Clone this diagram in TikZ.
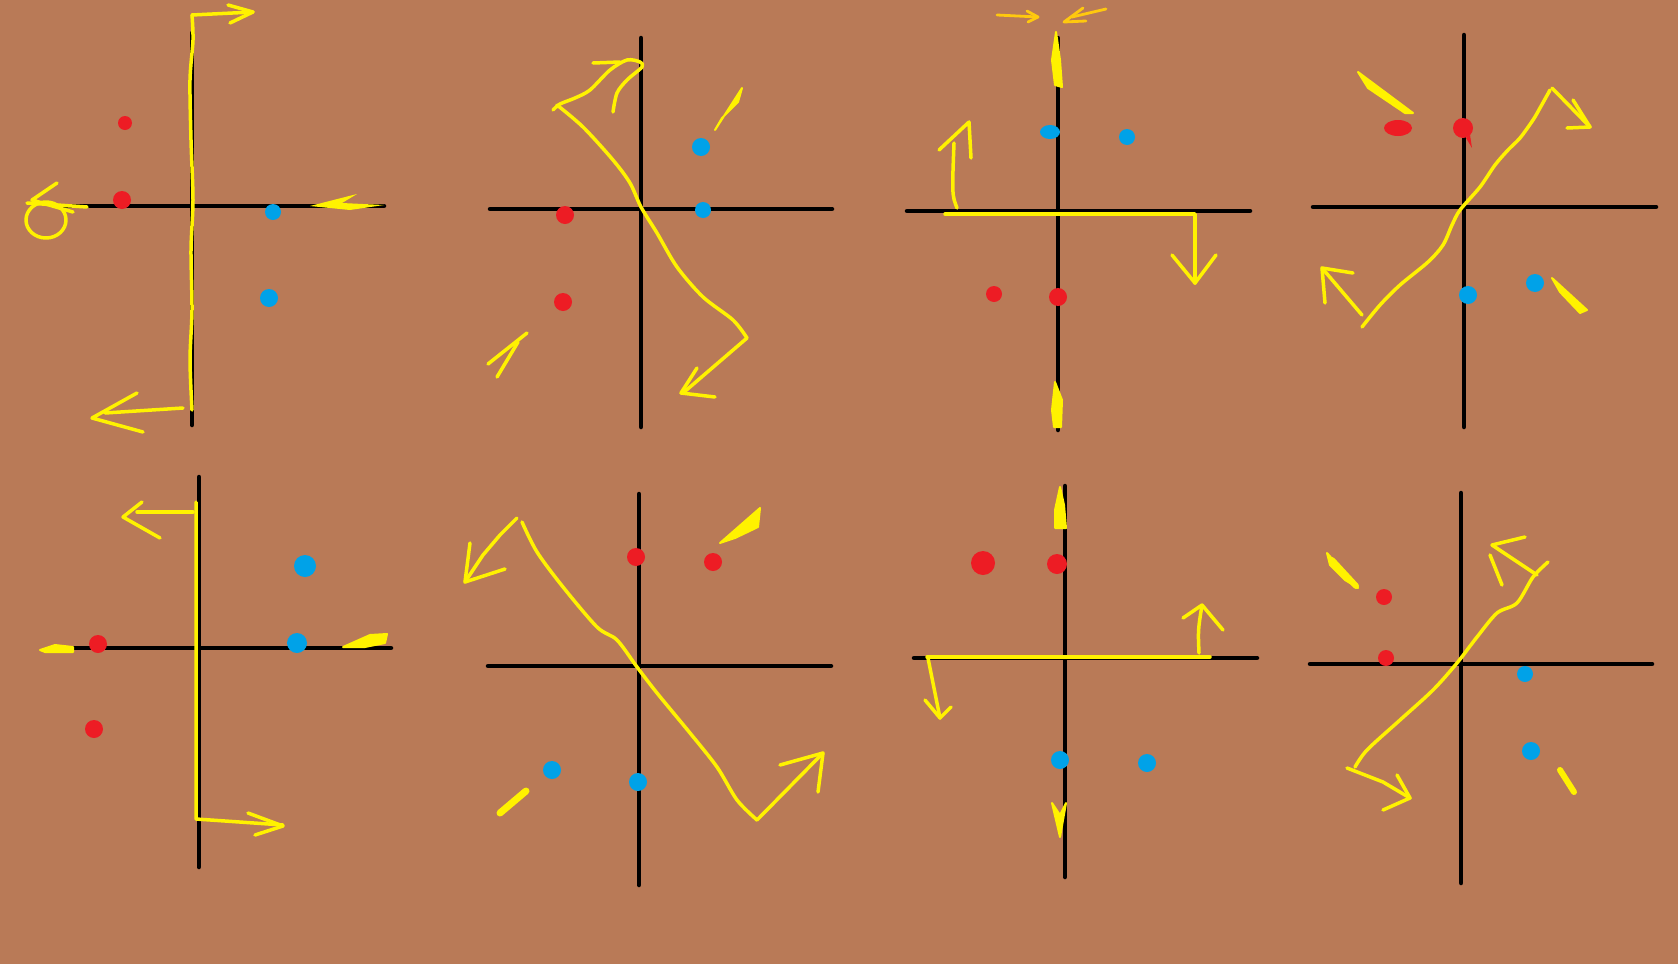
\documentclass[tikz,border=0pt]{standalone}
\definecolor{bg}{HTML}{B97A57}
\definecolor{yel}{HTML}{FFF200}
\definecolor{rd}{HTML}{ED1C24}
\definecolor{bl}{HTML}{00A2E8}
\definecolor{org}{HTML}{FFC90E}
\begin{document}
\begin{tikzpicture}[x=1pt,y=-1pt,
  axis/.style={line width=4.5pt, black, line cap=round},
  yl/.style={line width=3.5pt, yel, line cap=round, line join=round},
  og/.style={line width=2.8pt, org, line cap=round, line join=round},
  wedge/.style={fill=yel, draw=yel, line width=2pt, line join=round},
  rdot/.style={fill=rd},
  bdot/.style={fill=bl}]
\fill[bg] (0,0) rectangle (1678,964);
\useasboundingbox (0,0) rectangle (1678,964);

% ---------- Panel 1 ----------
\draw[axis] (192,33) -- (192,425);
\draw[axis] (60,206) -- (384,206);
\draw[yl] plot[smooth] coordinates {(192,410) (190,360) (192,310) (191,250) (193,200) (191,140) (190,80) (193,40) (192,15)};
\draw[yl] (192,15) -- (253,12);
\draw[yl] (228,5) -- (253,12) -- (230,23);
\draw[yl] (183,408) -- (105,413);
\draw[yl] (137,393) -- (92,418) -- (143,432);
\draw[yl] (87,207) -- (27,203);
\draw[yl] (57,183) -- (32,200) -- (73,212);
\draw[yl] (46,220) ellipse (20 and 18);
\fill[yel] (310,206) -- (357,194) -- (342,203) -- (384,205) -- (350,210) -- cycle;
\fill[rdot] (125,123) circle (7);
\fill[rdot] (122,200) circle (9);
\fill[bdot] (273,212) circle (8);
\fill[bdot] (269,298) circle (9);

% ---------- Panel 2 ----------
\draw[axis] (641,38) -- (641,427);
\draw[axis] (490,209) -- (832,209);
\draw[yl] plot[smooth] coordinates {(557,105) (583,127) (613,160) (630,183) (641,207) (657,233) (677,267) (703,297) (733,320) (747,338)};
\draw[yl] (747,338) -- (683,393);
\draw[yl] (697,368) -- (681,393) -- (715,397);
\draw[yl] plot[smooth] coordinates {(553,110) (560,104) (575,98) (590,90) (610,70) (627,60) (640,62) (642,67) (627,80) (617,93) (613,112)};
\draw[yl] (593,63) -- (620,62);
\fill[wedge] (715,130) -- (742,88) -- (738,102) -- (722,118) -- cycle;
\draw[yl] (488,364) -- (527,333);
\draw[yl] (497,377) -- (518,342);
\fill[rdot] (565,215) circle (9);
\fill[rdot] (563,302) circle (9);
\fill[bdot] (701,147) circle (9);
\fill[bdot] (703,210) circle (8);

% ---------- Panel 3 ----------
\draw[axis] (1058,38) -- (1058,430);
\draw[axis] (907,211) -- (1250,211);
\draw[yl] (945,214) -- (1195,214) -- (1195,283);
\draw[yl] (1172,255) -- (1195,283) -- (1216,255);
\draw[yl] (957,208) .. controls (952,195) .. (954,143);
\draw[yl] (939,150) -- (969,122) -- (971,158);
\fill[wedge] (1056,32) -- (1052,60) -- (1055,85) -- (1062,87) -- (1060,60) -- cycle;
\fill[wedge] (1055,382) -- (1052,410) -- (1054,427) -- (1061,427) -- (1062,400) -- cycle;
\draw[og] (997,15) -- (1038,17);
\draw[og] (1027,11) -- (1038,17) -- (1028,22);
\draw[og] (1106,9) -- (1072,17);
\draw[og] (1083,8) -- (1064,22) -- (1086,21);
\fill[bdot] (1050,132) ellipse (10 and 7);
\fill[bdot] (1127,137) circle (8);
\fill[rdot] (994,294) circle (8);
\fill[rdot] (1058,297) circle (9);

% ---------- Panel 4 ----------
\draw[axis] (1464,35) -- (1464,427);
\draw[axis] (1313,207) -- (1656,207);
\draw[yl] plot[smooth] coordinates {(1362,327) (1380,305) (1400,285) (1428,262) (1443,245) (1452,225) (1460,210) (1480,187) (1495,165) (1508,150) (1520,138) (1533,120) (1540,108) (1550,90)};
\draw[yl] (1552,88) -- (1590,127);
\draw[yl] (1573,100) -- (1590,127) -- (1567,128);
\draw[yl] (1362,315) -- (1322,268);
\draw[yl] (1353,273) -- (1322,268) -- (1325,303);
\fill[wedge] (1358,72) -- (1413,113) -- (1405,113) -- (1368,88) -- cycle;
\fill[wedge] (1552,278) -- (1587,310) -- (1580,313) -- (1560,292) -- cycle;
\fill[rdot] (1398,128) ellipse (14 and 8);
\fill[rdot] (1463,128) circle (10);
\fill[rdot] (1466,138) -- (1472,148) -- (1470,135) -- cycle;
\fill[bdot] (1535,283) circle (9);
\fill[bdot] (1468,295) circle (9);

% ---------- Panel 5 ----------
\draw[axis] (199,477) -- (199,867);
\draw[axis] (70,648) -- (391,648);
\draw[yl] (137,512) -- (193,512);
\draw[yl] (196,502) -- (196,819) -- (283,825);
\draw[yl] (142,502) -- (123,517) -- (160,538);
\draw[yl] (248,813) -- (283,826) -- (255,835);
\fill[wedge] (40,650) -- (55,645) -- (73,647) -- (73,652) -- (45,652) -- cycle;
\fill[wedge] (343,647) -- (370,635) -- (387,634) -- (385,643) -- (365,647) -- cycle;
\fill[rdot] (98,644) circle (9);
\fill[rdot] (94,729) circle (9);
\fill[bdot] (305,566) circle (11);
\fill[bdot] (297,643) circle (10);

% ---------- Panel 6 ----------
\draw[axis] (639,494) -- (639,885);
\draw[axis] (488,666) -- (831,666);
\draw[yl] plot[smooth] coordinates {(522,522) (537,552) (563,587) (597,627) (617,640) (637,667) (657,693) (690,733) (717,767) (737,800) (757,820)};
\draw[yl] (757,820) -- (823,753);
\draw[yl] (780,765) -- (823,753) -- (818,792);
\draw[yl] (517,518) -- (500,535) -- (483,555) -- (465,582);
\draw[yl] (470,543) -- (465,582) -- (505,569);
\fill[wedge] (720,543) -- (760,508) -- (758,527) -- (735,538) -- cycle;
\draw[yl, line width=7pt] (500,813) -- (526,791);
\fill[rdot] (636,557) circle (9);
\fill[rdot] (713,562) circle (9);
\fill[bdot] (552,770) circle (9);
\fill[bdot] (638,782) circle (9);

% ---------- Panel 7 ----------
\draw[axis] (1065,486) -- (1065,877);
\draw[axis] (914,658) -- (1257,658);
\draw[yl] (927,657) -- (1210,657);
\draw[yl] (1199,653) .. controls (1198,630) .. (1202,605);
\draw[yl] (1183,618) -- (1202,605) -- (1223,630);
\draw[yl] (928,658) -- (940,718);
\draw[yl] (925,700) -- (940,718) -- (951,707);
\fill[wedge] (1060,487) -- (1055,510) -- (1055,528) -- (1066,528) -- (1064,505) -- cycle;
\fill[wedge] (1052,803) -- (1060,837) -- (1066,803) -- (1060,815) -- cycle;
\fill[rdot] (983,563) circle (12);
\fill[rdot] (1057,564) circle (10);
\fill[bdot] (1060,760) circle (9);
\fill[bdot] (1147,763) circle (9);

% ---------- Panel 8 ----------
\draw[axis] (1461,493) -- (1461,883);
\draw[axis] (1310,664) -- (1652,664);
\draw[yl] plot[smooth] coordinates {(1355,767) (1367,750) (1400,720) (1433,690) (1457,663) (1477,637) (1497,613) (1517,603) (1533,577) (1548,562)};
\draw[yl] (1537,575) -- (1492,545);
\draw[yl] (1525,537) -- (1492,545);
\draw[yl] (1490,555) -- (1502,585);
\draw[yl] (1347,768) -- (1383,782) -- (1410,798);
\draw[yl] (1397,775) -- (1410,798) -- (1383,810);
\fill[wedge] (1327,553) -- (1358,588) -- (1345,580) -- (1330,565) -- cycle;
\draw[yl, line width=6pt] (1332,560) -- (1356,586);
\draw[yl, line width=6pt] (1560,770) -- (1574,792);
\fill[rdot] (1384,597) circle (8);
\fill[rdot] (1386,658) circle (8);
\fill[bdot] (1525,674) circle (8);
\fill[bdot] (1531,751) circle (9);
\end{tikzpicture}
\end{document}
